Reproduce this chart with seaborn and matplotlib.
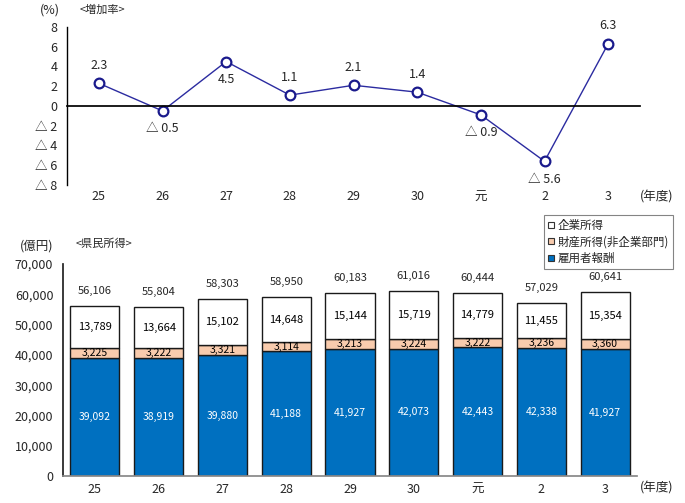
import numpy as np
import pandas as pd
import matplotlib
matplotlib.use("Agg")
import matplotlib.pyplot as plt
import seaborn as sns
from matplotlib.lines import Line2D
from matplotlib.transforms import blended_transform_factory

sns.set_theme(style="white")
plt.rcParams['font.family'] = ['Noto Sans CJK JP', 'DejaVu Sans']

years = ['25', '26', '27', '28', '29', '30', '元', '2', '3']
growth = [2.3, -0.5, 4.5, 1.1, 2.1, 1.4, -0.9, -5.6, 6.3]
growth_label_above = [True, False, False, True, True, True, False, False, True]
employee = [39092, 38919, 39880, 41188, 41927, 42073, 42443, 42338, 41927]
prop = [3225, 3222, 3321, 3114, 3213, 3224, 3222, 3236, 3360]
corporate = [13789, 13664, 15102, 14648, 15144, 15719, 14779, 11455, 15354]
total = [56106, 55804, 58303, 58950, 60183, 61016, 60444, 57029, 60641]
series_names = ['企業所得', '財産所得(非企業部門)', '雇用者報酬']

BLUE = '#0070C0'
PEACH = '#F8CBAD'
LINE = '#2B2BA0'
FS = 9

fig = plt.figure(figsize=(6.85, 5.03), dpi=100)
W, H = 685, 503

def ax_rect(l, t, r, b):
    return [l / W, 1 - b / H, (r - l) / W, (b - t) / H]

# ---------------- top line chart ----------------
ax1 = fig.add_axes(ax_rect(67, 27, 640, 185))
pos = np.arange(len(years))
df = pd.DataFrame({'pos': pos, 'growth': growth})
sns.lineplot(data=df, x='pos', y='growth', ax=ax1, color=LINE, lw=1,
             marker='o', markersize=7, markerfacecolor='white',
             markeredgecolor='#1a1a8c', markeredgewidth=1.6)
ax1.set_xlim(-0.5, len(years) - 0.5)
ax1.set_ylim(-8, 8)
ax1.set_yticks(np.arange(-8, 9, 2))
ax1.set_yticklabels([f'△ {abs(v)}' if v < 0 else f'{v}' for v in range(-8, 9, 2)], fontsize=FS)
ax1.spines['top'].set_visible(False)
ax1.spines['right'].set_visible(False)
ax1.spines['bottom'].set_position(('data', 0))
ax1.spines['left'].set_color('black')
ax1.spines['bottom'].set_color('black')
ax1.spines['left'].set_linewidth(1)
ax1.set_xticks(np.arange(0.5, len(years), 1))
ax1.set_xticklabels([])
ax1.tick_params(axis='x', direction='in', length=4, color='#555555', width=1)
ax1.tick_params(axis='y', direction='out', length=4, color='#888888', width=1, pad=3)
ax1.set_xlabel('')
ax1.set_ylabel('')
tr1 = blended_transform_factory(ax1.transData, ax1.transAxes)
for i, y in enumerate(years):
    ax1.text(i, -0.075, y, transform=tr1, ha='center', va='center', fontsize=FS)
for i, (v, up) in enumerate(zip(growth, growth_label_above)):
    s = f'△ {abs(v)}' if v < 0 else f'{v}'
    ax1.annotate(s, (i, v), xytext=(0, 13 if up else -13), textcoords='offset points',
                 ha='center', va='center', fontsize=FS)
fig.text(40 / W, 1 - 10 / H, '(%)', ha='left', va='center', fontsize=FS)
fig.text(80 / W, 1 - 10 / H, '<増加率>', ha='left', va='center', fontsize=8)
fig.text(640 / W, 1 - 197 / H, '(年度)', ha='left', va='center', fontsize=FS)

# ---------------- bottom stacked bars ----------------
ax2 = fig.add_axes(ax_rect(63, 264, 637, 476))
bdf = pd.DataFrame({'year': years, 'employee': employee, 'prop': prop,
                    'corporate': corporate})
bottom_prop = np.array(employee)
bottom_corp = np.array(employee) + np.array(prop)
sns.barplot(data=bdf, x='year', y='employee', ax=ax2, color=BLUE, width=0.77,
            edgecolor='#1a1a1a', linewidth=1, saturation=1)
sns.barplot(data=bdf, x='year', y='prop', ax=ax2, color=PEACH, width=0.77,
            edgecolor='#1a1a1a', linewidth=1, saturation=1, bottom=bottom_prop)
sns.barplot(data=bdf, x='year', y='corporate', ax=ax2, color='white', width=0.77,
            edgecolor='#1a1a1a', linewidth=1, saturation=1, bottom=bottom_corp)
ax2.set_xlim(-0.5, len(years) - 0.5)
ax2.set_ylim(0, 70000)
ax2.set_yticks(np.arange(0, 70001, 10000))
ax2.set_yticklabels([f'{v:,}' for v in range(0, 70001, 10000)], fontsize=FS)
ax2.set_xticks(pos)
ax2.set_xticklabels(years, fontsize=FS)
ax2.spines['top'].set_visible(False)
ax2.spines['right'].set_visible(False)
ax2.spines['left'].set_color('#222222')
ax2.spines['bottom'].set_color('#888888')
ax2.tick_params(axis='y', direction='out', length=4, color='#888888', pad=3)
ax2.tick_params(axis='x', length=0, pad=5)
ax2.set_xlabel('')
ax2.set_ylabel('')
for i in range(len(years)):
    e, p, c, t = employee[i], prop[i], corporate[i], total[i]
    ax2.text(i, e / 2, f'{e:,}', ha='center', va='center', fontsize=7.5, color='white')
    ax2.text(i, e + p / 2, f'{p:,}', ha='center', va='center', fontsize=7.5, color='black')
    ax2.text(i, e + p + c / 2, f'{c:,}', ha='center', va='center', fontsize=8, color='black')
    ax2.annotate(f'{t:,}', (i, e + p + c), xytext=(0, 11), textcoords='offset points',
                 ha='center', va='center', fontsize=8)
fig.text(20 / W, 1 - 246 / H, '(億円)', ha='left', va='center', fontsize=FS)
fig.text(76 / W, 1 - 244 / H, '<県民所得>', ha='left', va='center', fontsize=8)
fig.text(640 / W, 1 - 488 / H, '(年度)', ha='left', va='center', fontsize=FS)

handles = [Line2D([], [], marker='s', ls='none', markersize=5, markerfacecolor=c,
                  markeredgecolor='#333333', markeredgewidth=0.8)
           for c in ['white', PEACH, BLUE]]
leg = fig.legend(handles, series_names, loc='upper left',
                 bbox_to_anchor=(544 / W, 1 - 215 / H), fontsize=8.3,
                 frameon=True, fancybox=False, handlelength=0.6, handletextpad=0.2,
                 borderpad=0.35, labelspacing=0.3, borderaxespad=0)
leg.get_frame().set_edgecolor('#666666')
leg.get_frame().set_linewidth(0.8)

fig.savefig('out.png', dpi=100)
